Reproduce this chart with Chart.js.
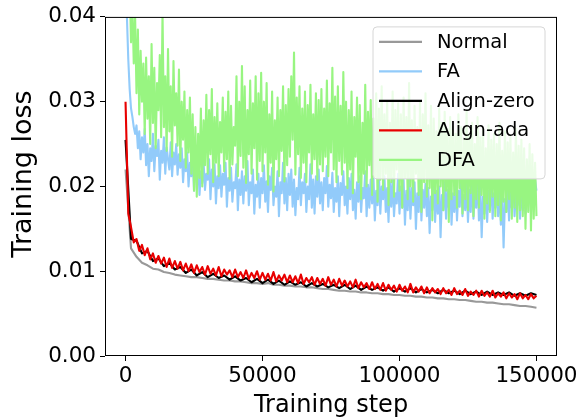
<!DOCTYPE html>
<html>
<head>
<meta charset="utf-8">
<script src="https://cdn.jsdelivr.net/npm/chart.js@4.4.0/dist/chart.umd.min.js"></script>
<style>
  html, body { margin: 0; padding: 0; background: #fff; }
  #wrap { width: 588px; height: 418px; }
</style>
</head>
<body>
<div id="wrap"><canvas id="chart" width="588" height="418"></canvas></div>
<script>
// x positions: samples every 500 steps (FA, DFA), 1000 steps (Align-ada), 2000 steps (Normal, Align-zero)
var steps500 = Array.from({ length: 301 }, function (_, i) { return i * 500 })
var steps1k = Array.from({ length: 151 }, function (_, i) { return i * 1000 })
var steps2k = Array.from({ length: 76 }, function (_, i) { return i * 2000 })

var seriesNames = ['Normal', 'FA', 'Align-zero', 'Align-ada', 'DFA']

var normalLoss = [
  .0220, .0127, .0117, .0110, .0107, .0103, .0102, .0099, .0098, .0096,
  .0095, .0094, .0093, .0093, .0092, .0091, .0091, .0090, .0089, .0089,
  .0088, .0088, .0087, .0086, .0086, .0085, .0086, .0084, .0084, .0083,
  .0083, .0082, .0082, .0081, .0081, .0080, .0079, .0079, .0078, .0077,
  .0077, .0076, .0076, .0075, .0075, .0074, .0074, .0073, .0073, .0072,
  .0072, .0071, .0071, .0070, .0070, .0069, .0069, .0068, .0068, .0067,
  .0067, .0066, .0066, .0065, .0064, .0064, .0063, .0063, .0062, .0061,
  .0061, .0060, .0059, .0059, .0058, .0057
]

var faLoss = [
  .0460, .0400, .0350, .0315, .0292, .0282, .0270, .0262, .0272, .0245,
  .0265, .0232, .0258, .0240, .0268, .0225, .0250, .0212, .0245, .0230,
  .0262, .0218, .0248, .0236, .0255, .0208, .0242, .0228, .0258, .0215,
  .0246, .0232, .0220, .0252, .0212, .0240, .0226, .0250, .0214, .0238,
  .0222, .0245, .0205, .0232, .0218, .0240, .0200, .0228, .0212, .0236,
  .0195, .0225, .0208, .0230, .0190, .0218, .0204, .0228, .0196, .0215,
  .0208, .0232, .0185, .0220, .0200, .0226, .0180, .0212, .0198, .0225,
  .0188, .0215, .0202, .0228, .0176, .0210, .0195, .0222, .0182, .0205,
  .0198, .0226, .0172, .0208, .0190, .0218, .0180, .0212, .0195, .0230,
  .0178, .0205, .0192, .0220, .0168, .0202, .0188, .0215, .0175, .0210,
  .0192, .0225, .0182, .0206, .0170, .0212, .0196, .0222, .0178, .0200,
  .0188, .0218, .0165, .0205, .0192, .0228, .0180, .0210, .0172, .0215,
  .0190, .0220, .0176, .0208, .0166, .0198, .0185, .0222, .0178, .0205,
  .0192, .0215, .0170, .0200, .0185, .0226, .0175, .0208, .0168, .0212,
  .0188, .0220, .0180, .0205, .0172, .0210, .0192, .0224, .0176, .0202,
  .0186, .0216, .0170, .0198, .0182, .0212, .0165, .0204, .0190, .0218,
  .0178, .0200, .0168, .0210, .0185, .0215, .0172, .0196, .0162, .0205,
  .0182, .0212, .0170, .0198, .0186, .0218, .0165, .0202, .0175, .0208,
  .0180, .0210, .0160, .0195, .0178, .0215, .0168, .0200, .0185, .0212,
  .0170, .0198, .0158, .0205, .0176, .0210, .0165, .0192, .0180, .0215,
  .0168, .0200, .0175, .0208, .0155, .0195, .0172, .0210, .0162, .0198,
  .0178, .0205, .0150, .0192, .0170, .0212, .0160, .0196, .0175, .0203,
  .0165, .0198, .0145, .0188, .0172, .0208, .0158, .0195, .0168, .0200,
  .0140, .0190, .0172, .0205, .0162, .0196, .0175, .0210, .0155, .0192,
  .0170, .0202, .0160, .0195, .0176, .0212, .0165, .0190, .0172, .0205,
  .0158, .0196, .0170, .0208, .0162, .0192, .0175, .0215, .0160, .0198,
  .0140, .0188, .0168, .0202, .0158, .0195, .0172, .0210, .0162, .0192,
  .0175, .0205, .0165, .0198, .0155, .0190, .0128, .0185, .0170, .0202,
  .0160, .0195, .0175, .0210, .0165, .0192, .0178, .0205, .0162, .0198,
  .0172, .0208, .0168, .0196, .0180, .0212, .0170, .0200, .0185, .0207,
  .0195
]

var alignZeroLoss = [
  .0255, .0138, .0136, .0121, .0124, .0112, .0115, .0106, .0110, .0102,
  .0105, .0098, .0102, .0095, .0099, .0093, .0097, .0092, .0095, .0090,
  .0094, .0089, .0092, .0087, .0091, .0086, .0090, .0085, .0089, .0084,
  .0088, .0084, .0087, .0082, .0086, .0082, .0085, .0081, .0084, .0080,
  .0084, .0079, .0083, .0078, .0082, .0078, .0081, .0077, .0081, .0076,
  .0080, .0076, .0080, .0075, .0079, .0075, .0078, .0074, .0078, .0074,
  .0077, .0073, .0077, .0073, .0076, .0072, .0076, .0072, .0075, .0072,
  .0075, .0071, .0074, .0071, .0074, .0072
]

var alignAdaLoss = [
  .0300, .0168, .0152, .0134, .0138, .0124, .0131, .0119, .0127, .0114,
  .0121, .0110, .0118, .0109, .0116, .0105, .0115, .0104, .0112, .0103,
  .0111, .0101, .0109, .0100, .0108, .0098, .0107, .0099, .0105, .0096,
  .0106, .0097, .0103, .0095, .0105, .0094, .0102, .0096, .0101, .0093,
  .0102, .0093, .0099, .0092, .0101, .0091, .0098, .0092, .0100, .0090,
  .0098, .0090, .0097, .0089, .0099, .0088, .0095, .0089, .0096, .0087,
  .0095, .0087, .0094, .0086, .0096, .0085, .0092, .0087, .0093, .0084,
  .0092, .0085, .0091, .0083, .0093, .0084, .0090, .0082, .0091, .0083,
  .0089, .0082, .0088, .0081, .0090, .0080, .0087, .0081, .0086, .0079,
  .0087, .0079, .0085, .0078, .0086, .0077, .0084, .0078, .0083, .0076,
  .0084, .0077, .0082, .0075, .0085, .0075, .0081, .0076, .0082, .0074,
  .0081, .0074, .0080, .0075, .0079, .0073, .0080, .0074, .0078, .0072,
  .0080, .0073, .0077, .0072, .0079, .0071, .0076, .0072, .0077, .0070,
  .0077, .0071, .0075, .0070, .0077, .0069, .0074, .0070, .0075, .0068,
  .0074, .0069, .0073, .0067, .0074, .0068, .0072, .0067, .0073, .0068,
  .0071
]

var dfaLoss = [
  .0480, .0455, .0420, .0440, .0370, .0415, .0345, .0400, .0310, .0385,
  .0285, .0360, .0300, .0345, .0262, .0352, .0280, .0330, .0250, .0368,
  .0275, .0340, .0245, .0322, .0290, .0355, .0258, .0405, .0270, .0330,
  .0242, .0362, .0265, .0318, .0235, .0348, .0272, .0310, .0248, .0338,
  .0230, .0300, .0255, .0312, .0222, .0290, .0240, .0305, .0215, .0285,
  .0195, .0270, .0188, .0262, .0210, .0292, .0200, .0278, .0225, .0308,
  .0215, .0290, .0238, .0315, .0205, .0282, .0228, .0298, .0212, .0276,
  .0240, .0305, .0218, .0288, .0232, .0312, .0209, .0295, .0226, .0270,
  .0248, .0330, .0212, .0300, .0236, .0342, .0222, .0318, .0204, .0290,
  .0238, .0325, .0215, .0298, .0245, .0330, .0208, .0310, .0230, .0334,
  .0218, .0300, .0240, .0322, .0202, .0285, .0228, .0312, .0194, .0278,
  .0232, .0305, .0212, .0290, .0242, .0318, .0206, .0296, .0225, .0315,
  .0235, .0330, .0255, .0358, .0214, .0305, .0238, .0318, .0210, .0292,
  .0228, .0312, .0205, .0296, .0240, .0320, .0215, .0285, .0232, .0310,
  .0208, .0302, .0226, .0315, .0218, .0292, .0235, .0325, .0212, .0298,
  .0240, .0340, .0220, .0306, .0205, .0318, .0230, .0295, .0214, .0335,
  .0228, .0300, .0198, .0290, .0220, .0312, .0192, .0282, .0235, .0305,
  .0205, .0296, .0185, .0275, .0215, .0320, .0200, .0288, .0225, .0302,
  .0190, .0280, .0212, .0310, .0182, .0292, .0208, .0318, .0196, .0285,
  .0215, .0300, .0178, .0275, .0205, .0312, .0188, .0290, .0220, .0298,
  .0195, .0285, .0175, .0305, .0210, .0282, .0185, .0322, .0200, .0278,
  .0182, .0295, .0215, .0270, .0190, .0300, .0170, .0285, .0205, .0310,
  .0188, .0272, .0198, .0295, .0160, .0280, .0192, .0265, .0180, .0292,
  .0200, .0275, .0172, .0288, .0195, .0268, .0158, .0282, .0185, .0270,
  .0190, .0262, .0175, .0285, .0198, .0270, .0168, .0255, .0185, .0290,
  .0172, .0260, .0192, .0275, .0165, .0250, .0185, .0282, .0175, .0258,
  .0190, .0268, .0162, .0245, .0180, .0272, .0170, .0255, .0188, .0262,
  .0165, .0250, .0178, .0275, .0160, .0242, .0182, .0265, .0170, .0252,
  .0185, .0258, .0162, .0240, .0175, .0268, .0158, .0248, .0172, .0255,
  .0165, .0245, .0150, .0232, .0170, .0250, .0148, .0238, .0162, .0228,
  .0165
]

var xTicks = [0, 50000, 100000, 150000]
var xTickLabels = ['0', '50000', '100000', '150000']
var yTicks = [0, 0.01, 0.02, 0.03, 0.04]
var yTickLabels = ['0.00', '0.01', '0.02', '0.03', '0.04']

var colors = ['#999999', '#92cbfa', '#000000', '#e80000', '#98f581']

function pairs(xs, ys) {
  return ys.map(function (y, i) { return { x: xs[i], y: y } })
}

var FONT = 'DejaVu Sans'

// spines, y label and a matplotlib style legend box
var framePlugin = {
  id: 'frame',
  afterDatasetsDraw: function (chart) {
    var ctx = chart.ctx, a = chart.chartArea
    ctx.save()
    ctx.strokeStyle = '#000'
    ctx.lineWidth = 1
    ctx.strokeRect(a.left + 0.5, a.top + 0.5, a.right - a.left - 1, a.bottom - a.top - 1)

    // y label
    ctx.save()
    ctx.translate(24, 174)
    ctx.rotate(-Math.PI / 2)
    ctx.font = '27px "' + FONT + '"'
    ctx.fillStyle = '#000'
    ctx.textAlign = 'center'
    ctx.textBaseline = 'middle'
    ctx.fillText('Training loss', 0, 0)
    ctx.restore()

    // legend
    var bx = a.left + 268, by = a.top + 10, bw = 172, bh = 152, r = 4
    ctx.beginPath()
    ctx.moveTo(bx + r, by)
    ctx.arcTo(bx + bw, by, bx + bw, by + bh, r)
    ctx.arcTo(bx + bw, by + bh, bx, by + bh, r)
    ctx.arcTo(bx, by + bh, bx, by, r)
    ctx.arcTo(bx, by, bx + bw, by, r)
    ctx.closePath()
    ctx.fillStyle = 'rgba(255,255,255,0.8)'
    ctx.fill()
    ctx.strokeStyle = '#d6d6d6'
    ctx.stroke()

    ctx.font = '19.5px "' + FONT + '"'
    ctx.textBaseline = 'middle'
    ctx.textAlign = 'left'
    seriesNames.forEach(function (name, i) {
      var y = by + 15 + i * 29.5
      ctx.strokeStyle = colors[i]
      ctx.lineWidth = 2.2
      ctx.beginPath()
      ctx.moveTo(bx + 6, y)
      ctx.lineTo(bx + 49, y)
      ctx.stroke()
      ctx.fillStyle = '#000'
      ctx.fillText(name, bx + 64, y + 1)
    })
    ctx.restore()
  }
}

var series = [
  pairs(steps2k, normalLoss),
  pairs(steps500, faLoss),
  pairs(steps2k, alignZeroLoss),
  pairs(steps1k, alignAdaLoss),
  pairs(steps500, dfaLoss)
]

new Chart(document.getElementById('chart'), {
  type: 'line',
  data: {
    datasets: series.map(function (d, i) {
      return {
        label: seriesNames[i],
        data: d,
        borderColor: colors[i],
        borderWidth: 2.1,
        borderJoinStyle: 'round',
        pointRadius: 0,
        tension: 0,
        fill: false,
        order: 5 - i
      }
    })
  },
  options: {
    responsive: false,
    animation: false,
    devicePixelRatio: 1,
    layout: { padding: { top: 16, right: 31, left: 0, bottom: 0 } },
    plugins: {
      legend: { display: false },
      tooltip: { enabled: false }
    },
    scales: {
      x: {
        type: 'linear',
        min: -7500,
        max: 157500,
        afterFit: function (s) { s.height = 62 },
        afterBuildTicks: function (s) { s.ticks = xTicks.map(function (v) { return { value: v } }) },
        ticks: {
          color: '#000',
          font: { family: FONT, size: 21.5 },
          padding: 3,
          maxRotation: 0,
          autoSkip: false,
          callback: function (v, i) { return xTickLabels[i] }
        },
        grid: { display: true, drawOnChartArea: false, drawTicks: true, tickLength: 5, color: '#000', tickWidth: 1 },
        border: { display: false },
        title: {
          display: true,
          text: 'Training step',
          color: '#000',
          font: { family: FONT, size: 24, lineHeight: 1 },
          padding: { top: 0, bottom: 0 }
        }
      },
      y: {
        type: 'linear',
        min: 0,
        max: 0.04,
        afterFit: function (s) { s.width = 105 },
        afterBuildTicks: function (s) { s.ticks = yTicks.map(function (v) { return { value: v } }) },
        ticks: {
          color: '#000',
          font: { family: FONT, size: 21.5 },
          padding: 4,
          autoSkip: false,
          callback: function (v, i) { return yTickLabels[i] }
        },
        grid: { display: true, drawOnChartArea: false, drawTicks: true, tickLength: 5, color: '#000', tickWidth: 1 },
        border: { display: false },
        title: { display: false }
      }
    }
  },
  plugins: [framePlugin]
})
</script>
</body>
</html>
